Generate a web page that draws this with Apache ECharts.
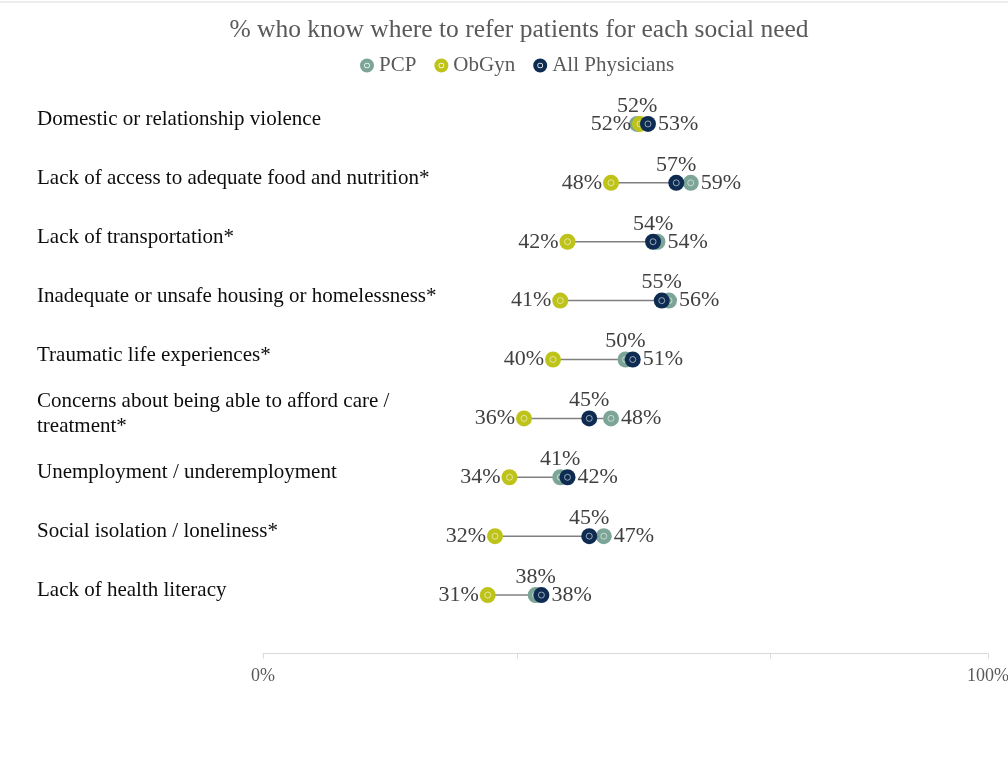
<!DOCTYPE html>
<html>
<head>
<meta charset="utf-8">
<script src="https://cdn.jsdelivr.net/npm/echarts@6/dist/echarts.min.js"></script>
<style>html,body{margin:0;padding:0;background:#fff}#c{width:1008px;height:758px}</style>
</head>
<body>
<div id="c"></div>
<script>
const categories = [
  'Domestic or relationship violence',
  'Lack of access to adequate food and nutrition*',
  'Lack of transportation*',
  'Inadequate or unsafe housing or homelessness*',
  'Traumatic life experiences*',
  'Concerns about being able to afford care /\ntreatment*',
  'Unemployment / underemployment',
  'Social isolation / loneliness*',
  'Lack of health literacy'
];
const pcp      = [51.6, 59, 54.4, 56, 50, 48, 41, 47, 37.6];
const obgyn    = [52, 48, 42, 41, 40, 36, 34, 32, 31];
const allPhys  = [53.1, 57, 53.8, 55, 51, 45, 42, 45, 38.4];
const seriesNames = ['PCP', 'ObGyn', 'All Physicians'];
const axisTickLabels = ['0%', '100%'];

const COLORS = {PCP: '#7ca597', ObGyn: '#bec31a', All: '#0e2c52'};
const FONT = 'Liberation Serif';
const ringIcon = 'path://M10,0A10,10,0,1,1,10,20A10,10,0,1,1,10,0ZM10,6A4,4,0,1,0,10,14A4,4,0,1,0,10,6ZM10,7A3,3,0,1,1,10,13A3,3,0,1,1,10,7Z';

const valLabel = {
  show: true, fontFamily: FONT, fontSize: 22, color: '#404040',
  formatter: p => Math.round(p.value[0]) + '%'
};

function dotSeries(name, vals, other, color, isLeft) {
  return {
    name: name, type: 'scatter', symbol: 'circle', symbolSize: 16,
    itemStyle: {color: color, opacity: 1},
    z: 3,
    data: vals.map((v, i) => ({
      value: [v, i],
      label: isLeft ? {position: 'left', distance: 1}
                    : (v >= other[i] ? {position: 'right', distance: 2} : {position: 'top', distance: -1})
    })),
    label: valLabel
  };
}
function ringSeries(vals) {
  return {
    type: 'scatter', symbol: 'circle', symbolSize: 6, silent: true, z: 3,
    itemStyle: {color: 'rgba(0,0,0,0)', borderColor: 'rgba(255,255,255,0.7)', borderWidth: 1},
    data: vals.map((v, i) => [v, i])
  };
}

const chart = echarts.init(document.getElementById('c'), null, {renderer: 'canvas'});
chart.setOption({
  animation: false,
  title: {
    text: '% who know where to refer patients for each social need',
    left: 514, top: 12, textAlign: 'center',
    textStyle: {fontFamily: FONT, fontSize: 25.5, fontWeight: 'normal', color: '#595959'}
  },
  legend: {
    left: 355, top: 50, itemWidth: 14, itemHeight: 14, itemGap: 18,
    textStyle: {fontFamily: FONT, fontSize: 21, color: '#595959'},
    data: seriesNames.map(n => ({name: n, icon: ringIcon}))
  },
  graphic: [{type: 'line', shape: {x1: 0, y1: 2, x2: 1008, y2: 2}, style: {stroke: '#d9d9d9', lineWidth: 1}}],
  grid: {left: 263, right: 20, top: 94.5, bottom: 133.5, outerBoundsMode: 'none'},
  xAxis: {
    type: 'value', min: 0, max: 100, interval: 35, offset: 29,
    axisLine: {show: true, lineStyle: {color: '#d9d9d9'}},
    axisTick: {show: true, length: 5, lineStyle: {color: '#d9d9d9'}},
    splitLine: {show: false},
    axisLabel: {
      fontFamily: FONT, fontSize: 18, color: '#595959', margin: 14, hideOverlap: false,
      formatter: v => v === 0 ? axisTickLabels[0] : (v === 100 ? axisTickLabels[1] : '')
    }
  },
  yAxis: {
    type: 'category', data: categories, inverse: true,
    axisLine: {show: false}, axisTick: {show: false}, splitLine: {show: false},
    axisLabel: {
      align: 'left', margin: 226, fontFamily: FONT, fontSize: 21, color: '#0d0d0d', lineHeight: 25,
      formatter: v => v.split('\n').map(s => '{t|' + s + '}').join('\n') + '\n{g|}',
      rich: {
        t: {fontFamily: FONT, fontSize: 21, color: '#0d0d0d', lineHeight: 25},
        g: {fontSize: 1, lineHeight: 9}
      }
    }
  },
  series: [
    {
      type: 'custom', silent: true, z: 2,
      encode: {x: [0, 1], y: 2},
      data: categories.map((c, i) => [obgyn[i], Math.max(pcp[i], allPhys[i]), i]),
      renderItem: (params, api) => {
        const a = api.coord([api.value(0), api.value(2)]);
        const b = api.coord([api.value(1), api.value(2)]);
        return {type: 'line', shape: {x1: a[0], y1: a[1], x2: b[0], y2: b[1]},
                style: {stroke: '#808080', lineWidth: 1.5}};
      }
    },
    dotSeries('PCP', pcp, allPhys, COLORS.PCP, false),
    ringSeries(pcp),
    dotSeries('ObGyn', obgyn, null, COLORS.ObGyn, true),
    ringSeries(obgyn),
    dotSeries('All Physicians', allPhys, pcp, COLORS.All, false),
    ringSeries(allPhys)
  ]
});
</script>
</body>
</html>
